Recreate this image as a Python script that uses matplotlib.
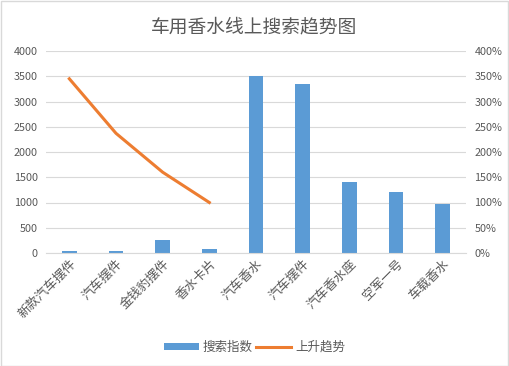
import matplotlib
matplotlib.use("Agg")
import matplotlib.pyplot as plt
import numpy as np
from matplotlib.patches import Rectangle

plt.rcParams['font.family'] = ['Noto Sans CJK SC', 'DejaVu Sans']

categories = ['新款汽车摆件', '汽车摆件', '金钱豹摆件', '香水卡片', '汽车香水', '汽车摆件', '汽车香水座', '空军一号', '车载香水']
search_index = [30, 30, 250, 70, 3500, 3350, 1400, 1200, 980]
trend = [3.45, 2.37, 1.60, 1.00, np.nan, np.nan, np.nan, np.nan, np.nan]
left_ticks = [0, 500, 1000, 1500, 2000, 2500, 3000, 3500, 4000]
right_ticks = [0, 0.5, 1.0, 1.5, 2.0, 2.5, 3.0, 3.5, 4.0]

W, H = 509, 366
fig = plt.figure(figsize=(W / 100, H / 100), dpi=100)
ax = fig.add_axes([46 / W, 1 - 253 / H, 420 / W, 202 / H])
ax2 = ax.twinx()

x = np.arange(len(categories))
ax.bar(x, search_index, width=0.32, color='#5B9BD5', label='搜索指数', zorder=2)
ax2.plot(x, trend, color='#ED7D31', lw=2.2, label='上升趋势', zorder=3)

ax.set_xlim(-0.5, len(categories) - 0.5)
ax.set_ylim(0, 4000)
ax2.set_ylim(0, 4.0)
ax.set_yticks(left_ticks)
ax.set_yticklabels([str(v) for v in left_ticks])
ax2.set_yticks(right_ticks)
ax2.set_yticklabels([f'{int(round(v * 100))}%' for v in right_ticks])
ax.set_xticks(x)
ax.set_xticklabels(categories, rotation=45, ha='right', rotation_mode='anchor')

ax.grid(axis='y', color='#D9D9D9', lw=0.8, zorder=0)
ax.set_axisbelow(True)
for a in (ax, ax2):
    for s in a.spines.values():
        s.set_visible(False)
    a.tick_params(length=0, colors='#595959', labelsize=7.8)
ax.spines['bottom'].set_visible(True)
ax.spines['bottom'].set_color('#D9D9D9')
ax.tick_params(axis='y', pad=6)
ax2.tick_params(axis='y', pad=6)
ax.tick_params(axis='x', pad=3, labelsize=9.2)

fig.text(0.5, 1 - 27 / H, '车用香水线上搜索趋势图', ha='center', va='center', fontsize=13.5, color='#595959')

h1, l1 = ax.get_legend_handles_labels()
h2, l2 = ax2.get_legend_handles_labels()
fig.legend(h1 + h2, l1 + l2, loc='center', bbox_to_anchor=(0.5, 1 - 347 / H), ncol=2, frameon=False,
           fontsize=9, labelcolor='#595959', handlelength=2.8, handleheight=0.5,
           columnspacing=0.3, handletextpad=0.3)

fig.patches.append(Rectangle((0.5 / W, 0.5 / H), 1 - 1.5 / W, 1 - 1.5 / H, transform=fig.transFigure,
                             fill=False, edgecolor='#D9D9D9', lw=1))

fig.savefig('out.png', dpi=100)
